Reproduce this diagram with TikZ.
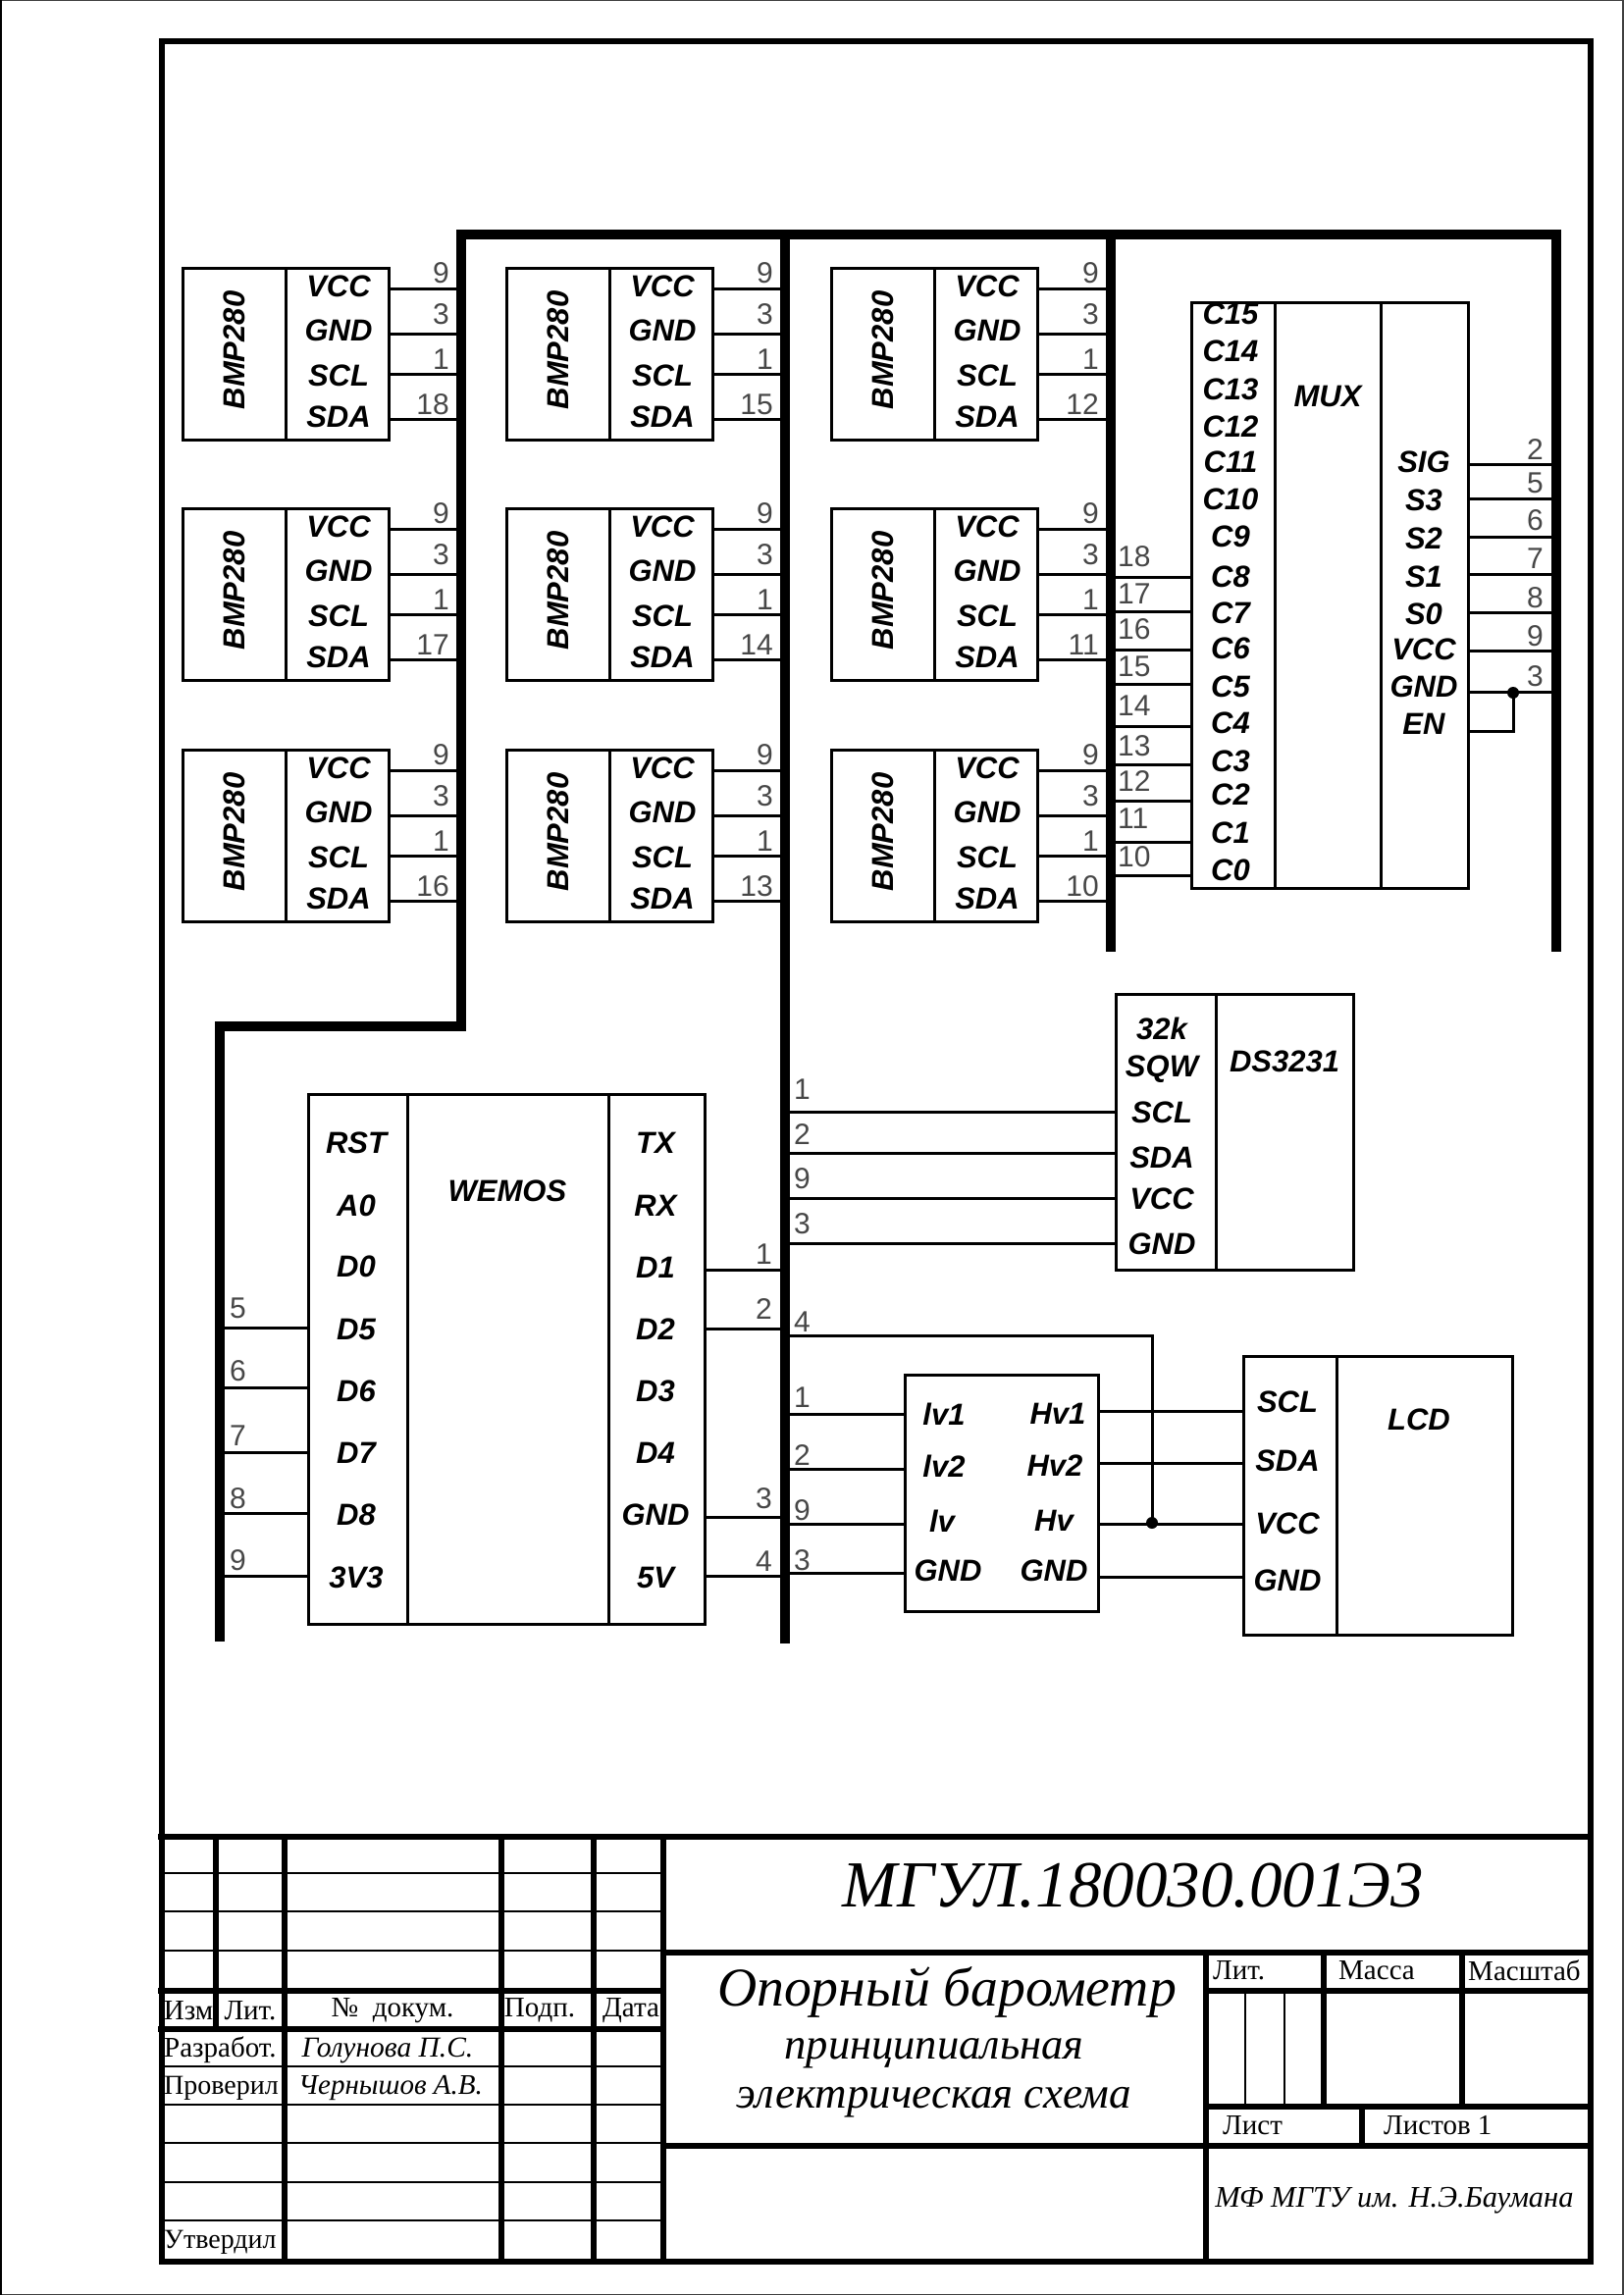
\documentclass[tikz,border=0pt]{standalone}
\usepackage{fontspec}
\setmainfont{Liberation Serif}
\setsansfont{Liberation Sans}
\usetikzlibrary{calc}
\tikzset{
 x=1pt,y=-1pt,
 icbox/.style={draw=black,line width=3pt,fill=none,inner sep=0pt,outer sep=0pt},
 divider/.style={draw=black,line width=3pt},
 wirel/.style={draw=black,line width=3pt,line cap=butt},
 busl/.style={draw=black,line width=10pt,line cap=butt,line join=miter},
 framethick/.style={draw=black,line width=5.5pt,line cap=rect},
 framethin/.style={draw=black,line width=2.2pt,line cap=butt},
 pinl/.style={font=\sffamily\bfseries\itshape\fontsize{31}{31}\selectfont,inner sep=0pt},
 numl/.style={font=\sffamily\fontsize{30}{30}\selectfont,text=black!72,inner sep=0pt},
 numleft/.style={numl,anchor=west},
 numright/.style={numl,anchor=east},
 tbl/.style={font=\fontsize{29}{29}\selectfont,inner sep=0pt},
 tbll/.style={tbl,anchor=west},
 tbli/.style={font=\itshape\fontsize{29.5}{30}\selectfont,inner sep=0pt},
 dotn/.style={circle,fill=black,inner sep=0pt,outer sep=0pt,minimum size=12pt},
}
\newcommand{\ICbox}[5]{%
 \pgfmathsetlengthmacro\myBW{#4-(#2)}\pgfmathsetlengthmacro\myBH{#5-(#3)}%
 \node[icbox,minimum width=\myBW,minimum height=\myBH] (#1) at ({(#2+#4)/2},{(#3+#5)/2}) {};}
\newcommand{\Divide}[2]{\draw[divider] (#2,0 |- #1.north) -- (#2,0 |- #1.south);}
\newcommand{\Wire}[3]{\draw[wirel] (#1 |- 0,#3) -- (#2 |- 0,#3);}
% sensor: name, left x, top y, bus, last number
\newcommand{\Sensor}[5]{%
 \pgfmathsetmacro\myXr{#2+210}\pgfmathsetmacro\myYb{#3+175}%
 \ICbox{#1}{#2}{#3}{\myXr}{\myYb}%
 \pgfmathsetmacro\myXd{#2+105}\Divide{#1}{\myXd}%
 \pgfmathsetmacro\myXc{#2+159}\pgfmathsetmacro\myXt{#2+53}\pgfmathsetmacro\myYt{#3+84}%
 \node[pinl,rotate=90] (#1t) at (\myXt,\myYt) {BMP280};
 \pgfmathsetmacro\myP{#3+19}\node[pinl] (#1a) at (\myXc,\myP) {VCC};
 \pgfmathsetmacro\myP{#3+64}\node[pinl] (#1b) at (\myXc,\myP) {GND};
 \pgfmathsetmacro\myP{#3+110}\node[pinl] (#1c) at (\myXc,\myP) {SCL};
 \pgfmathsetmacro\myP{#3+152}\node[pinl] (#1d) at (\myXc,\myP) {SDA};
 \pgfmathsetmacro\myP{#3+21}\Wire{#1.east}{#4}{\myP}
 \pgfmathsetmacro\myP{#3+67}\Wire{#1.east}{#4}{\myP}
 \pgfmathsetmacro\myP{#3+108}\Wire{#1.east}{#4}{\myP}
 \pgfmathsetmacro\myP{#3+154}\Wire{#1.east}{#4}{\myP}
 \pgfmathsetmacro\myP{#3+5}\node[numright,xshift=-12pt] (#1na) at (#4 |- 0,\myP) {9};
 \pgfmathsetmacro\myP{#3+47}\node[numright,xshift=-12pt] (#1nb) at (#4 |- 0,\myP) {3};
 \pgfmathsetmacro\myP{#3+93}\node[numright,xshift=-12pt] (#1nc) at (#4 |- 0,\myP) {1};
 \pgfmathsetmacro\myP{#3+139}\node[numright,xshift=-12pt] (#1nd) at (#4 |- 0,\myP) {#5};
}
\begin{document}
\begin{tikzpicture}
\useasboundingbox (0,0) rectangle (1654,2339);
% page edge
\draw[black!75,line width=3pt] (0,0) rectangle (1654,2339);
\draw[black,line width=3pt] (0,0) -- (0,2339);
% buses
\coordinate (busA) at (224,1046);
\coordinate (busB) at (470,239);
\coordinate (busC) at (800,239);
\coordinate (busD) at (1132,239);
\coordinate (busE) at (1586,239);
\draw[busl] (224,1673) -- (busA) -- (470,1046) -- (busB) -- (busE) -- (1586,970);
\draw[busl] (busC) -- (800,1675);
\draw[busl] (busD) -- (1132,970);
% sensors
\Sensor{sa}{186}{273}{busB}{18}
\Sensor{sb}{186}{518}{busB}{17}
\Sensor{sc}{186}{764}{busB}{16}
\Sensor{sd}{516}{273}{busC}{15}
\Sensor{se}{516}{518}{busC}{14}
\Sensor{sf}{516}{764}{busC}{13}
\Sensor{sg}{847}{273}{busD}{12}
\Sensor{sh}{847}{518}{busD}{11}
\Sensor{si}{847}{764}{busD}{10}
% MUX
\ICbox{mux}{1214}{308}{1496}{905}
\Divide{mux}{1299}\Divide{mux}{1407}
\node[pinl] (muxt) at (1353,404) {MUX};
\foreach \t/\y [count=\i] in {C15/320,C14/358,C13/397,C12/435,C11/471,C10/509,C9/547,C8/588,C7/625,C6/661,C5/700,C4/737,C3/776,C2/810,C1/849,C0/887}
 \node[pinl] (mc\i) at (1254,\y) {\t};
\foreach \t/\y [count=\i] in {SIG/471,S3/510,S2/549,S1/588,S0/626,VCC/662,GND/700,EN/738}
 \node[pinl] (ms\i) at (1451,\y) {\t};
\foreach \n/\y/\l in {18/588/567,17/623/605,16/662/641,15/697/679,14/740/719,13/779/760,12/816/796,11/858/834,10/892/873}{
 \Wire{mux.west}{busD}{\y}
 \node[numleft] (mn\n) at (1139,\l) {\n};
}
\foreach \n/\y/\l in {2/473/458,5/508/492,6/547/530,7/585/569,8/624/609,9/663/648,3/705/689}{
 \Wire{mux.east}{busE}{\y}
 \node[numright] (mr\n) at (1573,\l) {\n};
}
\node[dotn] (muxdot) at (1542,706) {};
\coordinate (muxen) at (mux.east |- 0,745);
\draw[wirel,line join=miter] (muxen) -- (muxdot |- muxen) -- (muxdot.center);
% WEMOS
\ICbox{wem}{314}{1115}{718}{1655}
\Divide{wem}{415}\Divide{wem}{620}
\node[pinl] (wemt) at (517,1214) {WEMOS};
\foreach \t/\y [count=\i] in {RST/1165,A0/1229,D0/1291,D5/1355,D6/1418,D7/1481,D8/1544,3V3/1608}
 \node[pinl] (wl\i) at (363,\y) {\t};
\foreach \t/\y [count=\i] in {TX/1165,RX/1229,D1/1292,D2/1355,D3/1418,D4/1481,GND/1544,5V/1608}
 \node[pinl] (wr\i) at (668,\y) {\t};
\foreach \n/\y/\l in {5/1353/1333,6/1414/1397,7/1480/1463,8/1542/1527,9/1606/1590}{
 \Wire{busA}{wem.west}{\y}
 \node[numleft] (wnl\n) at (234,\l) {\n};
}
\foreach \n/\y/\l in {1/1294/1278,2/1354/1334,3/1546/1527,4/1606/1591}{
 \Wire{wem.east}{busC}{\y}
 \node[numright] (wnr\n) at (787,\l) {\n};
}
% DS3231
\ICbox{ds}{1137}{1013}{1379}{1294}
\Divide{ds}{1239}
\node[pinl] (dst) at (1309,1082) {DS3231};
\foreach \t/\y [count=\i] in {32k/1048,SQW/1090,SCL/1134,SDA/1180,VCC/1222,GND/1268}
 \node[pinl] (dsp\i) at (1184,\y) {\t};
\foreach \n/\y/\l in {1/1133/1110,2/1175/1156,9/1221/1201,3/1267/1247}{
 \Wire{busC}{ds.west}{\y}
 \node[numleft] (dsn\n) at (809,\l) {\n};
}
% level shifter
\ICbox{ls}{922}{1401}{1119}{1642}
\foreach \t/\x/\y [count=\i] in {lv1/962/1441,lv2/962/1494,lv/960/1550,GND/966/1601,Hv1/1078/1441,Hv2/1075/1494,Hv/1074/1550,GND/1074/1601}
 \node[pinl] (lsp\i) at (\x,\y) {\t};
\foreach \n/\y/\l in {1/1441/1424,2/1497/1483,9/1553/1539,3/1603/1590}{
 \Wire{busC}{ls.west}{\y}
 \node[numleft] (lsn\n) at (809,\l) {\n};
}
% LCD
\ICbox{lcd}{1267}{1382}{1541}{1666}
\Divide{lcd}{1362}
\node[pinl] (lcdt) at (1446,1447) {LCD};
\foreach \t/\y [count=\i] in {SCL/1429,SDA/1489,VCC/1553,GND/1611}
 \node[pinl] (lcdp\i) at (1312,\y) {\t};
\Wire{ls.east}{lcd.west}{1438}
\Wire{ls.east}{lcd.west}{1491}
\Wire{ls.east}{lcd.west}{1553}
\Wire{ls.east}{lcd.west}{1607}
\node[dotn] (lsdot) at (1174,1552) {};
\node[numleft] (n4c) at (809,1347) {4};
\draw[wirel,line join=miter] (busC |- 0,1361) -- (lsdot |- 0,1361) -- (lsdot.center);
% title block frame
\draw[black,line width=6pt,line join=miter] (164.5,42) rectangle (1621,2305);
\foreach \y in {1872,2029,2068}
 \draw[framethick] (164,\y) -- (676,\y);
\draw[framethick] (676,1872) -- (1621,1872);
\foreach \y in {1909,1948,1988,2106,2145,2184,2224,2263}
 \draw[framethin] (164,\y) -- (676,\y);
\draw[framethick] (220,1872) -- (220,2068);
\foreach \x in {290,511,605,676}
 \draw[framethick] (\x,1872) -- (\x,2304);
\draw[framethick] (676,1990) -- (1621,1990);
\draw[framethick] (676,2187) -- (1621,2187);
\draw[framethick] (1229,1990) -- (1229,2304);
\draw[framethick] (1229,2029) -- (1621,2029);
\draw[framethick] (1229,2147) -- (1621,2147);
\draw[framethick] (1349,1990) -- (1349,2147);
\draw[framethick] (1490,1990) -- (1490,2147);
\draw[framethick] (1388,2147) -- (1388,2187);
\draw[framethin] (1269,2029) -- (1269,2147);
\draw[framethin] (1309,2029) -- (1309,2147);
% title block texts
\node[tbl] (t1) at (192,2049) {Изм};
\node[tbl] (t2) at (255,2049) {Лит.};
\node[tbl] (t3) at (400,2049) {№\ \ докум.};
\node[tbl] (t4) at (550,2049) {Подп.};
\node[tbl] (t5) at (643,2049) {Дата};
\node[tbll] (t6) at (167,2089) {Разработ.};
\node[tbll,font=\fontsize{28}{28}\selectfont] (t7) at (167,2128) {Проверил};
\node[tbll,font=\fontsize{28}{28}\selectfont] (t8) at (167,2285) {Утвердил};
\node[tbli] (t9) at (395,2090) {Голунова П.С.};
\node[tbli,font=\itshape\fontsize{29}{29}\selectfont] (t10) at (398,2128) {Чернышов А.В.};
\node[inner sep=0pt,font=\itshape\fontsize{67}{67}\selectfont] (t11) at (1155,1922) {МГУЛ.180030.001Э3};
\node[inner sep=0pt,font=\itshape\fontsize{55.7}{56}\selectfont] (t12) at (965,2030) {Опорный барометр};
\node[inner sep=0pt,font=\itshape\fontsize{44.5}{45}\selectfont] (t13) at (952,2093) {принципиальная};
\node[inner sep=0pt,font=\itshape\fontsize{45}{45}\selectfont] (t14) at (952,2143) {электрическая схема};
\node[tbll] (t15) at (1236,2008) {Лит.};
\node[tbll] (t16) at (1364,2008) {Масса};
\node[tbll] (t17) at (1496,2008) {Масштаб};
\node[tbll] (t18) at (1246,2166) {Лист};
\node[tbll] (t19) at (1410,2166) {Листов 1};
\node[inner sep=0pt,font=\itshape\fontsize{30.5}{31}\selectfont] (t20) at (1421,2243) {МФ МГТУ им. Н.Э.Баумана};
\end{tikzpicture}
\end{document}
